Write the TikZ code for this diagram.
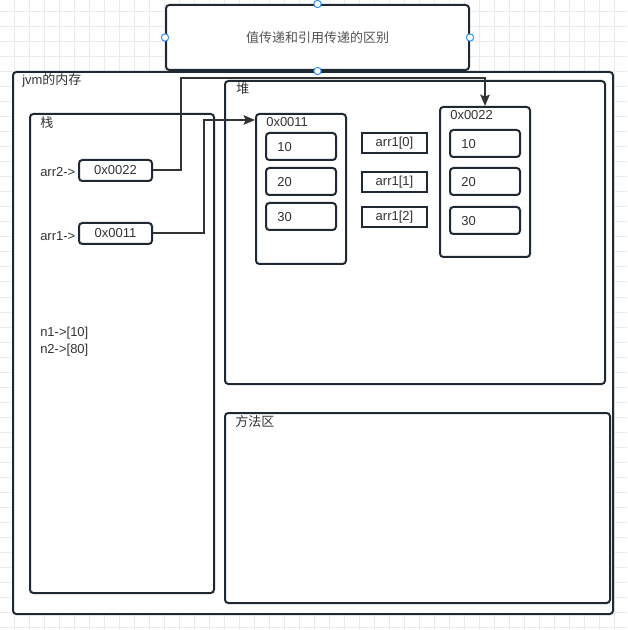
\documentclass[tikz,border=0pt]{standalone}
\usepackage{fontspec}
\setmainfont{Liberation Sans}
\newfontfamily\cjk{Noto Sans CJK SC}
\usetikzlibrary{arrows.meta,fit,calc}
\definecolor{edge}{HTML}{1F2933}
\definecolor{txt}{HTML}{333333}
\definecolor{conncol}{HTML}{333333}
\definecolor{gridc}{HTML}{EBEBEB}
\definecolor{handle}{HTML}{2F8FFF}
\begin{document}
\begin{tikzpicture}[x=0.75pt,y=-0.75pt,
  fnt/.style={font=\fontsize{9.75}{11.7}\selectfont, text=txt},
  frame/.style={draw=edge, line width=1.5pt, rounded corners=2.5pt, fill=white, inner sep=0pt},
  sq/.style={draw=edge, line width=1.5pt, fill=white, inner sep=0pt},
  lbl/.style={anchor=west, inner sep=0pt, fnt},
  ctr/.style={inner sep=0pt, fnt},
  conn/.style={draw=conncol, line width=1.5pt},
  arr/.style={conn, -{Stealth[length=8.5pt,width=7pt,inset=1.5pt]}},
  hdl/.style={circle, draw=handle, fill=white, line width=0.75pt, minimum size=5.5pt, inner sep=0pt}]
\useasboundingbox (0,0) rectangle (627,630);
% grid
\begin{scope}
\clip (0,0) rectangle (627,630);
\foreach \gx in {-1,14,...,629} \draw[gridc, line width=0.75pt] (\gx,0) -- (\gx,630);
\foreach \gy in {12,27,...,629} \draw[gridc, line width=0.75pt] (0,\gy) -- (627,\gy);
\end{scope}
% title
\node[frame, fit={(166,5) (469,70)}] (title) {};
\node[ctr, text=txt!85!white] (titletxt) at (title.center) {{\cjk 值传递和引用传递的区别}};
% jvm memory
\node[frame, fit={(13,72) (613,614)}] (jvm) {};
\node[lbl] (jvmlbl) at (22,80) {jvm{\cjk 的内存}};
% stack
\node[frame, fit={(30,114) (214,593)}] (stack) {};
\node[lbl] (stacklbl) at (40,123) {{\cjk 栈}};
\node[lbl] (arr2lbl) at (40,172) {arr2->};
\node[frame, fit={(79,160) (152,181)}] (a2) {};
\node[ctr] (a2t) at (a2.center) {0x0022};
\node[lbl] (arr1lbl) at (40,236) {arr1->};
\node[frame, fit={(79,223) (152,244)}] (a1) {};
\node[ctr] (a1t) at (a1.center) {0x0011};
\node[lbl] (n1) at (40,333) {n1->[10]};
\node[lbl] (n2) at (40,350) {n2->[80]};
% heap
\node[frame, fit={(225,81) (605,384)}] (heap) {};
\node[lbl] (heaplbl) at (236,89) {{\cjk 堆}};
% array 0x0011
\node[frame, fit={(256,114) (346,264)}] (h1) {};
\node[lbl] (h1lbl) at (266,122) {0x0011};
\node[frame, fit={(266,133) (336,160)}] (h1c1) {};
\node[lbl] (h1t1) at (277,147) {10};
\node[frame, fit={(266,168) (336,195)}] (h1c2) {};
\node[lbl] (h1t2) at (277,182) {20};
\node[frame, fit={(266,203) (336,230)}] (h1c3) {};
\node[lbl] (h1t3) at (277,217) {30};
% index labels
\node[sq, fit={(362,133) (427,153)}] (i0) {};
\node[ctr] (i0t) at (i0.center) {arr1[0]};
\node[sq, fit={(362,172) (427,192)}] (i1) {};
\node[ctr] (i1t) at (i1.center) {arr1[1]};
\node[sq, fit={(362,207) (427,227)}] (i2) {};
\node[ctr] (i2t) at (i2.center) {arr1[2]};
% array 0x0022
\node[frame, fit={(440,107) (530,257)}] (h2) {};
\node[lbl] (h2lbl) at (450,115) {0x0022};
\node[frame, fit={(450,130) (520,157)}] (h2c1) {};
\node[lbl] (h2t1) at (461,144) {10};
\node[frame, fit={(450,168) (520,195)}] (h2c2) {};
\node[lbl] (h2t2) at (461,182) {20};
\node[frame, fit={(450,207) (520,234)}] (h2c3) {};
\node[lbl] (h2t3) at (461,221) {30};
% method area
\node[frame, fit={(225,413) (610,603)}] (method) {};
\node[lbl] (methodlbl) at (235,422) {{\cjk 方法区}};
% connectors
\coordinate (bendA) at (181,78);
\coordinate (bendB) at (204,120);
\draw[arr] (a2.east) -| (bendA) -| (h2.north);
\draw[arr] (a1.east) -| (bendB) -- (bendB -| h1.west);
% selection handles
\node[hdl] (hn) at (title.north) {};
\node[hdl] (hs) at (title.south) {};
\node[hdl] (hw) at (title.west) {};
\node[hdl] (he) at (title.east) {};
\end{tikzpicture}
\end{document}
